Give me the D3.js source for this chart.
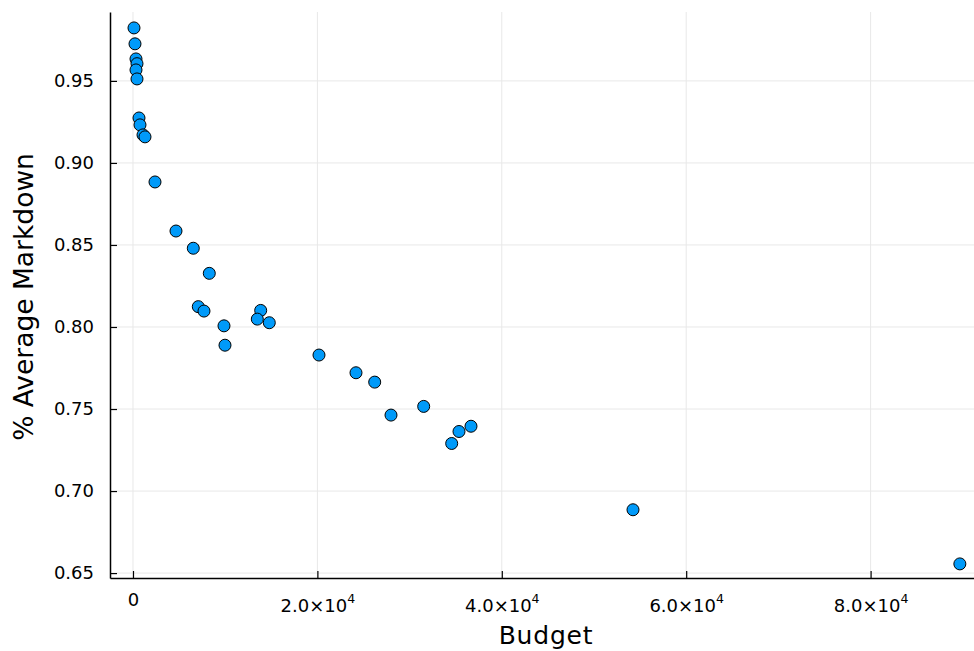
<!DOCTYPE html>
<html>
<head>
<meta charset="utf-8">
<script src="https://cdn.jsdelivr.net/npm/d3@7"></script>
<style>
  body { margin: 0; background: #fff; }
  svg, svg text { font-family: 'DejaVu Sans', sans-serif; }
</style>
</head>
<body>
<div id="chart"></div>
<script>
// Data
const budget = [108, 217, 325, 434, 325, 434, 651, 759, 1085, 1302, 2386,
  4664, 6540, 8275, 7082, 7700, 9870, 9978, 13850, 13482, 14783,
  20173, 24186, 26215, 27983, 31529, 34566, 35358, 36659, 54230, 89680]
const markdown = [0.9823, 0.9726, 0.9634, 0.9605, 0.9567, 0.9512, 0.9274, 0.9232, 0.9171, 0.9159, 0.8884,
  0.8585, 0.8480, 0.8327, 0.8124, 0.8097, 0.8007, 0.7889, 0.8101, 0.8048, 0.8026,
  0.7829, 0.7721, 0.7664, 0.7463, 0.7516, 0.7290, 0.7363, 0.7395, 0.6886, 0.6556]

const xTicks = [0, 20000, 40000, 60000, 80000]
const yTicks = [0.65, 0.70, 0.75, 0.80, 0.85, 0.90, 0.95]

const config = {
  width: 974, height: 651,
  margins: { left: 110, top: 12, right: 0, bottom: 73 }
}

const margin = config.margins
const width = config.width - margin.left - margin.right
const height = config.height - margin.top - margin.bottom

const data = budget.map((b, i) => ({ budget: b, markdown: markdown[i] }))

let svg = d3.select('#chart').append('svg')
  .attr('width', config.width)
  .attr('height', config.height)

let chart = svg.append('g')
  .attr('transform', 'translate(' + margin.left + ',' + margin.top + ')')

let x = d3.scaleLinear().domain([-2494, 91215]).range([0, width]),
    y = d3.scaleLinear().domain([0.647, 0.992]).range([height, 0])

// grid
chart.append('g')
  .selectAll('line')
  .data(xTicks)
  .enter().append('line')
    .attr('x1', d => x(d)).attr('x2', d => x(d))
    .attr('y1', 0).attr('y2', height)
    .attr('stroke', '#e8e8e8')
chart.append('g')
  .selectAll('line')
  .data(yTicks)
  .enter().append('line')
    .attr('x1', 0).attr('x2', width)
    .attr('y1', d => y(d)).attr('y2', d => y(d))
    .attr('stroke', '#e8e8e8')

// axes
function customXAxis(g) {
  g.call(d3.axisBottom(x).tickValues(xTicks).tickSizeInner(-7).tickSizeOuter(0).tickFormat(''))
  g.attr('font-family', null).attr('font-size', null)
  g.select('.domain').attr('stroke-width', 1.5)
  g.selectAll('.tick line').attr('stroke-width', 1.2)
  g.selectAll('.tick').each(function(d) {
    const t = d3.select(this).append('text')
      .attr('fill', '#000')
      .style('font-size', '18px')
      .attr('text-anchor', 'middle')
    if (d === 0) {
      t.attr('y', 28).text('0')
    } else {
      t.attr('y', 34)
      t.append('tspan').text((d / 10000).toFixed(1) + '×10')
      t.append('tspan').attr('dy', -9).style('font-size', '12.5px').text('4')
    }
  })
}
chart.append('g')
  .attr('transform', 'translate(0,' + height + ')')
  .call(customXAxis)

function customYAxis(g) {
  g.call(d3.axisLeft(y).tickValues(yTicks).tickSizeInner(-7).tickSizeOuter(0)
    .tickFormat(d3.format('.2f')))
  g.attr('font-family', null).attr('font-size', null)
  g.select('.domain').attr('stroke-width', 1.5)
  g.selectAll('.tick line').attr('stroke-width', 1.2)
  g.selectAll('.tick text')
    .attr('x', -16)
    .style('font-size', '18px')
    .attr('fill', '#000')
}
chart.append('g').call(customYAxis)

// axis labels
svg.append('text')
  .attr('x', margin.left + width / 2 + 4)
  .attr('y', 644)
  .attr('text-anchor', 'middle')
  .style('font-size', '25px')
  .style('letter-spacing', '0.8px')
  .text('Budget')

svg.append('text')
  .attr('transform', 'translate(33,297) rotate(-90)')
  .attr('text-anchor', 'middle')
  .style('font-size', '26.5px')
  .text('% Average Markdown')

// points
chart.selectAll('.points')
  .data(data)
  .enter().append('circle')
    .attr('class', 'points')
    .attr('r', 6)
    .attr('cx', d => x(d.budget))
    .attr('cy', d => y(d.markdown))
    .attr('fill', '#009af9')
    .attr('stroke', '#000')
    .attr('stroke-width', 1)
</script>
</body>
</html>
